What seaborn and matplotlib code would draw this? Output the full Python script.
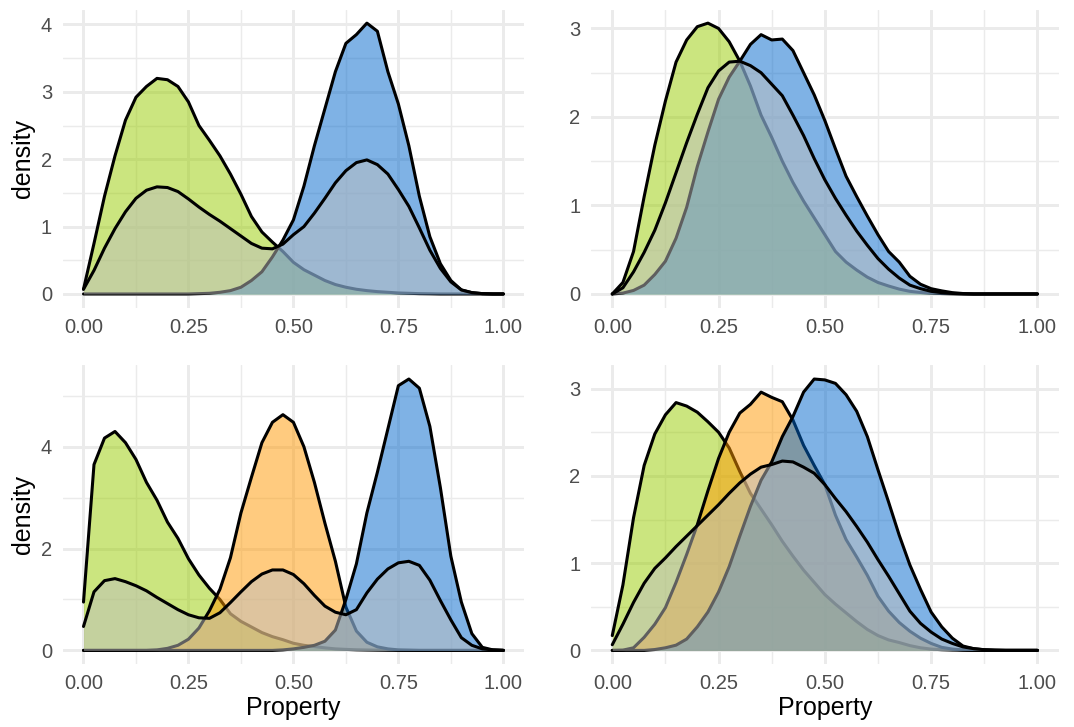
import matplotlib
matplotlib.use("Agg")
import matplotlib.pyplot as plt
from matplotlib.ticker import MultipleLocator, FormatStrFormatter
import seaborn as sns

# Evaluation grid for the density curves (Property from 0 to 1)
property_grid = [round(i * 0.025, 3) for i in range(41)]

# Panel 1: two groups
p1_green = [0.07, 0.75, 1.45, 2.05, 2.58, 2.92, 3.08, 3.2, 3.18, 3.08, 2.85, 2.5, 2.28, 2.05,
            1.78, 1.48, 1.15, 0.92, 0.77, 0.63, 0.47, 0.36, 0.28, 0.2, 0.14, 0.1, 0.07, 0.05,
            0.035, 0.025, 0.015, 0.01, 0.005, 0.003, 0, 0, 0, 0, 0, 0, 0]
p1_blue = [0, 0, 0, 0, 0, 0, 0, 0, 0, 0, 0, 0.005, 0.01, 0.025, 0.05, 0.1, 0.2, 0.33, 0.55,
           0.8, 1.1, 1.6, 2.2, 2.75, 3.3, 3.72, 3.85, 4.02, 3.9, 3.3, 2.82, 2.2, 1.45, 0.85,
           0.45, 0.2, 0.06, 0.02, 0.005, 0, 0]
p1_all = [0.07, 0.35, 0.68, 0.97, 1.22, 1.42, 1.54, 1.59, 1.58, 1.52, 1.41, 1.29, 1.18, 1.08,
          0.97, 0.86, 0.75, 0.68, 0.67, 0.74, 0.88, 1.0, 1.2, 1.42, 1.65, 1.83, 1.95, 1.99,
          1.92, 1.78, 1.55, 1.3, 0.98, 0.65, 0.38, 0.18, 0.06, 0.02, 0.005, 0, 0]

# Panel 2: two groups
p2_green = [0, 0.13, 0.48, 1.1, 1.68, 2.18, 2.62, 2.87, 3.02, 3.06, 3.0, 2.85, 2.63, 2.35,
            2.02, 1.77, 1.5, 1.26, 1.05, 0.86, 0.67, 0.48, 0.36, 0.27, 0.19, 0.13, 0.09,
            0.055, 0.03, 0.017, 0.01, 0.005, 0.002, 0, 0, 0, 0, 0, 0, 0, 0]
p2_blue = [0, 0.01, 0.04, 0.1, 0.22, 0.37, 0.63, 0.98, 1.44, 1.83, 2.2, 2.45, 2.63, 2.82,
           2.93, 2.87, 2.88, 2.75, 2.5, 2.25, 1.96, 1.64, 1.33, 1.1, 0.88, 0.67, 0.48, 0.36,
           0.2, 0.11, 0.06, 0.035, 0.015, 0.005, 0, 0, 0, 0, 0, 0, 0]
p2_all = [0, 0.07, 0.25, 0.47, 0.72, 1.03, 1.37, 1.71, 2.03, 2.33, 2.52, 2.62, 2.63, 2.58,
          2.5, 2.37, 2.24, 2.02, 1.79, 1.53, 1.29, 1.08, 0.89, 0.71, 0.55, 0.4, 0.28, 0.18,
          0.1, 0.06, 0.03, 0.015, 0.006, 0.002, 0, 0, 0, 0, 0, 0, 0]

# Panel 3: three groups
p3_green = [0.95, 3.65, 4.17, 4.3, 4.08, 3.75, 3.3, 2.95, 2.52, 2.2, 1.8, 1.48, 1.22, 1.0,
            0.72, 0.57, 0.46, 0.35, 0.27, 0.21, 0.14, 0.1, 0.075, 0.05, 0.03, 0.02, 0.012,
            0.008, 0.005, 0.002, 0, 0, 0, 0, 0, 0, 0, 0, 0, 0, 0]
p3_orange = [0, 0, 0, 0, 0, 0, 0, 0.01, 0.04, 0.1, 0.22, 0.44, 0.78, 1.2, 1.82, 2.7, 3.4,
             4.08, 4.48, 4.63, 4.48, 4.0, 3.3, 2.5, 1.75, 0.85, 0.38, 0.16, 0.07, 0.03, 0.01,
             0.005, 0, 0, 0, 0, 0, 0, 0, 0, 0]
p3_blue = [0, 0, 0, 0, 0, 0, 0, 0, 0, 0, 0, 0, 0, 0, 0, 0, 0, 0, 0, 0.01, 0.03, 0.06, 0.1,
           0.18, 0.4, 1.0, 1.7, 2.7, 3.5, 4.35, 5.2, 5.33, 5.15, 4.4, 3.2, 1.85, 0.95, 0.33,
           0.06, 0.01, 0]
p3_all = [0.47, 1.15, 1.37, 1.41, 1.35, 1.27, 1.17, 1.04, 0.92, 0.8, 0.7, 0.64, 0.63, 0.74,
          0.94, 1.15, 1.35, 1.5, 1.58, 1.58, 1.49, 1.31, 1.08, 0.87, 0.75, 0.7, 0.8, 1.13,
          1.4, 1.6, 1.72, 1.75, 1.67, 1.38, 0.98, 0.6, 0.25, 0.1, 0.03, 0.01, 0]

# Panel 4: three groups
p4_green = [0.17, 0.75, 1.52, 2.12, 2.48, 2.7, 2.84, 2.8, 2.73, 2.62, 2.5, 2.32, 2.05, 1.8,
            1.62, 1.44, 1.25, 1.08, 0.92, 0.78, 0.64, 0.53, 0.43, 0.33, 0.24, 0.17, 0.12,
            0.09, 0.055, 0.03, 0.015, 0.008, 0.004, 0.002, 0, 0, 0, 0, 0, 0, 0]
p4_orange = [0, 0.003, 0.03, 0.15, 0.3, 0.49, 0.78, 1.1, 1.44, 1.83, 2.2, 2.5, 2.72, 2.82,
             2.96, 2.9, 2.85, 2.64, 2.35, 2.12, 1.9, 1.55, 1.27, 1.07, 0.86, 0.62, 0.45,
             0.32, 0.22, 0.14, 0.08, 0.035, 0.015, 0.005, 0, 0, 0, 0, 0, 0, 0]
p4_blue = [0, 0, 0, 0, 0.01, 0.03, 0.06, 0.13, 0.27, 0.44, 0.67, 0.96, 1.31, 1.65, 1.95,
           2.16, 2.45, 2.68, 2.96, 3.11, 3.1, 3.06, 2.93, 2.74, 2.45, 2.07, 1.7, 1.32, 0.98,
           0.7, 0.44, 0.27, 0.14, 0.05, 0.02, 0.007, 0.002, 0, 0, 0, 0]
p4_all = [0.065, 0.3, 0.55, 0.77, 0.94, 1.06, 1.19, 1.31, 1.43, 1.55, 1.67, 1.8, 1.92, 2.02,
          2.1, 2.13, 2.17, 2.16, 2.1, 2.03, 1.9, 1.74, 1.59, 1.42, 1.24, 1.04, 0.85, 0.65,
          0.45, 0.31, 0.21, 0.13, 0.08, 0.04, 0.02, 0.008, 0.003, 0, 0, 0, 0]

x_ticks = [0.0, 0.25, 0.5, 0.75, 1.0]
y_steps = [1, 1, 2, 1]

group_colors = {"green": "#99CC00", "orange": "#FF9900", "blue": "#0066CC"}
overall_color = "#BEBEBE"
grid_color = "#EBEBEB"
text_grey = "#4D4D4D"

sns.set_theme(style="white")
plt.rcParams["font.family"] = ["Liberation Sans", "DejaVu Sans"]

fig = plt.figure(figsize=(10.74, 7.27), dpi=100)

# axes rectangles in figure fractions: [left, bottom, width, height]
left_col = (0.0582, 0.430)
right_col = (0.5503, 0.4354)
top_row = (0.577, 0.4098)
bottom_row = (0.0867, 0.4106)

panels = [
    dict(rect=(left_col[0], top_row[0], left_col[1], top_row[1]),
         groups=[("green", p1_green), ("blue", p1_blue)], overall=p1_all,
         ystep=y_steps[0], ylabel=True, xlabel=False),
    dict(rect=(right_col[0], top_row[0], right_col[1], top_row[1]),
         groups=[("green", p2_green), ("blue", p2_blue)], overall=p2_all,
         ystep=y_steps[1], ylabel=False, xlabel=False),
    dict(rect=(left_col[0], bottom_row[0], left_col[1], bottom_row[1]),
         groups=[("green", p3_green), ("orange", p3_orange), ("blue", p3_blue)], overall=p3_all,
         ystep=y_steps[2], ylabel=True, xlabel=True),
    dict(rect=(right_col[0], bottom_row[0], right_col[1], bottom_row[1]),
         groups=[("green", p4_green), ("orange", p4_orange), ("blue", p4_blue)], overall=p4_all,
         ystep=y_steps[3], ylabel=False, xlabel=True),
]

LW = 2.2

for spec in panels:
    ax = fig.add_axes(spec["rect"])
    z = 2
    for name, dens in spec["groups"]:
        ax.fill_between(property_grid, 0, dens, color=group_colors[name], alpha=0.5,
                        linewidth=0, zorder=z)
        sns.lineplot(x=property_grid, y=dens, color="black", linewidth=LW, ax=ax,
                     zorder=z + 1, estimator=None, sort=False, legend=False)
        z += 2
    ax.fill_between(property_grid, 0, spec["overall"], color=overall_color, alpha=0.5,
                    linewidth=0, zorder=z)
    sns.lineplot(x=property_grid, y=spec["overall"], color="black", linewidth=LW, ax=ax,
                 zorder=z + 1, estimator=None, sort=False, legend=False)

    ymax = max(max(d) for _, d in spec["groups"])
    ymax = max(ymax, max(spec["overall"]))
    ax.set_xlim(-0.05, 1.05)
    ax.set_ylim(-0.05 * ymax, 1.05 * ymax)

    ax.set_xticks(x_ticks)
    ax.xaxis.set_minor_locator(MultipleLocator(0.125))
    ax.xaxis.set_major_formatter(FormatStrFormatter("%.2f"))
    ax.yaxis.set_major_locator(MultipleLocator(spec["ystep"]))
    ax.yaxis.set_minor_locator(MultipleLocator(spec["ystep"] / 2))
    ax.yaxis.set_major_formatter(FormatStrFormatter("%g"))

    ax.set_axisbelow(True)
    ax.grid(which="major", color=grid_color, linewidth=2.1)
    ax.grid(which="minor", color=grid_color, linewidth=1.05)
    for s in ax.spines.values():
        s.set_visible(False)
    ax.tick_params(which="both", length=0, labelsize=14.5, labelcolor=text_grey, pad=7.5)

    ax.set_ylabel("density" if spec["ylabel"] else "", fontsize=18, color="black", labelpad=4)
    ax.set_xlabel("Property" if spec["xlabel"] else "", fontsize=18, color="black", labelpad=2)

fig.savefig("out.png", dpi=100, facecolor="white")
